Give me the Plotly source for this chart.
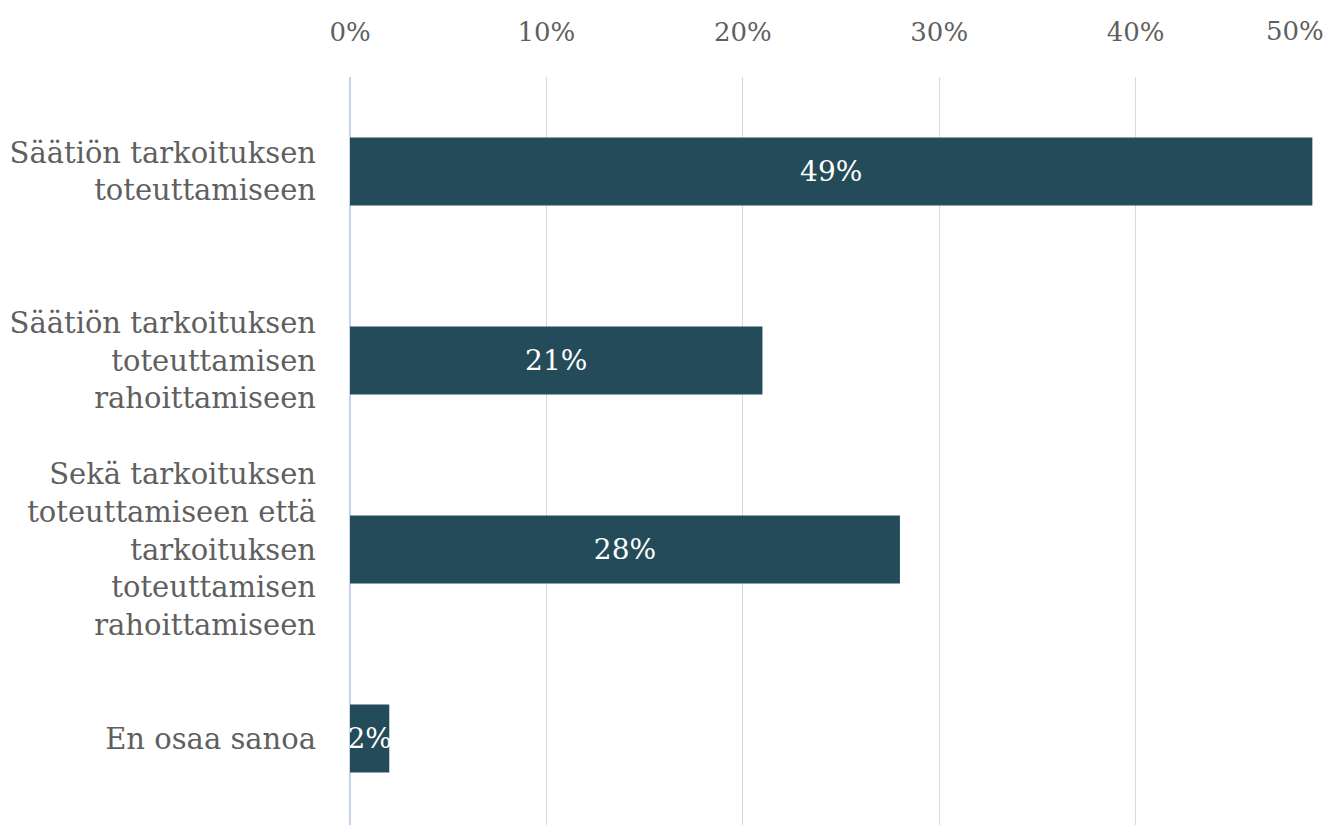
import plotly.graph_objects as go

categories = [
    "Säätiön tarkoituksen<br>toteuttamiseen",
    "Säätiön tarkoituksen<br>toteuttamisen<br>rahoittamiseen",
    "Sekä tarkoituksen<br>toteuttamiseen että<br>tarkoituksen<br>toteuttamisen<br>rahoittamiseen",
    "En osaa sanoa",
]
values = [0.49, 0.21, 0.28, 0.02]
labels = ["49%", "21%", "28%", "2%"]
tick_vals = [0, 0.1, 0.2, 0.3, 0.4, 0.5]
tick_text = ["0%", "10%", "20%", "30%", "40%", ""]
last_tick_label = "50%"

FONT = "DejaVu Serif"
BAR = "#244B59"
GRAY = "#5F5F5F"

fig = go.Figure(go.Bar(
    x=values, y=categories, orientation="h",
    marker=dict(color=BAR, line=dict(width=0)),
    text=labels, textposition="inside", insidetextanchor="middle",
    textangle=0, constraintext="none",
    textfont=dict(family=FONT, size=28, color="white"),
    hoverinfo="skip",
))

fig.update_layout(
    width=1333, height=825,
    margin=dict(l=350, r=1, t=77, b=0, autoexpand=False),
    paper_bgcolor="white", plot_bgcolor="white",
    bargap=0.64, showlegend=False,
    font=dict(family=FONT, color=GRAY),
)
fig.update_xaxes(
    side="top", range=[0, 0.5], tickvals=tick_vals, ticktext=tick_text,
    showgrid=True, gridcolor="#D9D9D9", gridwidth=1.3,
    zeroline=True, zerolinecolor="#C8D3EC", zerolinewidth=1.5,
    showline=False, ticks="", ticklabelstandoff=30,
    tickfont=dict(family=FONT, size=26, color=GRAY),
)
fig.update_yaxes(
    range=[3.458, -0.5], showgrid=False, zeroline=False, showline=False,
    ticks="", ticklabelstandoff=33,
    tickfont=dict(family=FONT, size=29, color=GRAY),
)
fig.add_annotation(
    x=tick_vals[-1], xref="x", y=1, yref="paper", text=last_tick_label,
    showarrow=False, xanchor="right", yanchor="bottom", xshift=-6, yshift=29,
    font=dict(family=FONT, size=26, color=GRAY),
)

fig.write_html(
    "out.html",
    config={"displayModeBar": False},
    post_script="document.body.style.margin='0';document.body.style.overflow='hidden';",
)
